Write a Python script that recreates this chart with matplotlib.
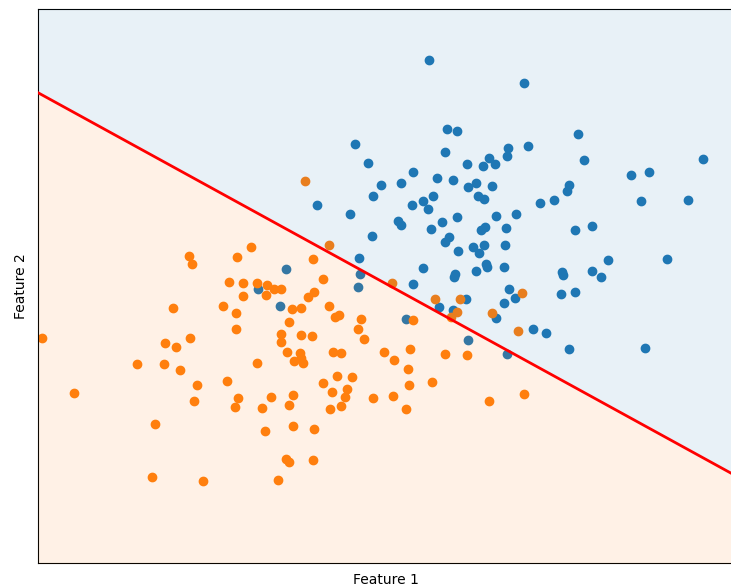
import numpy as np
import matplotlib
matplotlib.use("Agg")
import matplotlib.pyplot as plt

# Class 0 (blue) points
blue_x = [0.44, 1.39, 0.62, 0.72, 1.93, -0.30, 1.43, 1.23, 0.60, 1.22,
          1.04, 3.18, 1.99, -0.17, 0.82, 1.10, 0.98, 0.28, 2.64, 2.46,
          0.52, 0.68, 0.16, -0.04, 1.07, 0.83, 0.91, 1.84, 1.82, -0.12,
          0.48, 0.93, 0.99, 0.38, 1.69, 1.55, 2.56, 3.03, -0.68, 0.27,
          0.43, -0.35, 1.11, 1.31, 0.72, 0.13, 0.16, 0.57, 1.21, 1.90,
          2.07, 0.46, 0.96, 1.00, -0.13, 0.60, 0.64, 1.20, 0.99, 0.73,
          0.88, 0.94, -0.26, 2.23, 2.82, 1.19, 0.38, 0.70, 0.69, 0.91,
          1.01, 1.02, 1.77, 1.78, 2.07, 2.16, -0.25, -0.99, 0.28, -0.27,
          -1.27, 1.24, 1.30, 1.19, 1.76, 1.90, -1.05, 0.54, 0.68, 0.81,
          1.11, 0.21, 1.48, 1.61, 0.83, 1.84, 2.60, 1.22]
blue_y = [2.40, 2.17, 1.71, 1.69, 1.66, 1.56, 1.54, 1.52, 1.48, 1.44,
          1.42, 1.41, 1.40, 1.37, 1.36, 1.36, 1.34, 1.28, 1.28, 1.25,
          1.22, 1.20, 1.17, 1.15, 1.14, 1.13, 1.17, 1.15, 1.09, 1.04,
          1.04, 1.04, 1.01, 0.99, 1.00, 0.97, 0.99, 1.00, 0.95, 0.95,
          0.91, 0.86, 0.84, 0.86, 0.83, 0.79, 0.75, 0.78, 0.72, 0.70,
          0.74, 0.71, 0.70, 0.73, 0.64, 0.58, 0.63, 0.55, 0.55, 0.49,
          0.53, 0.47, 0.42, 0.40, 0.41, 0.33, 0.32, 0.26, 0.23, 0.29,
          0.36, 0.33, 0.28, 0.25, 0.29, 0.23, 0.26, 0.31, 0.16, 0.13,
          0.11, 0.11, 0.02, -0.03, 0.06, 0.08, -0.06, -0.07, -0.10, 0.01,
          -0.18, -0.19, -0.29, -0.33, -0.40, -0.49, -0.48, -0.54]

# Class 1 (orange) points
orange_x = [-0.80, -0.56, -1.34, -1.96, -1.93, -1.48, -0.72, -1.56, -1.42, -1.28,
            -1.18, -1.11, -1.04, -1.42, -1.19, -0.62, -0.71, -0.77, 0.07, -2.12,
            -1.62, -1.49, -0.93, -0.84, -0.56, -0.50, -0.46, -0.24, -0.96, -1.49,
            -1.04, -1.04, -0.84, -0.73, -0.27, -0.21, -3.43, -2.20, -2.09, -1.95,
            -0.98, -0.85, -0.84, -0.91, -0.82, -0.52, -0.44, -0.01, 0.09, -2.48,
            -2.21, -2.05, -1.28, -1.88, -1.58, -0.62, -0.48, -0.33, -0.53, -0.38,
            -0.40, -3.11, -1.91, -1.47, -1.50, -1.23, -1.14, -0.92, -0.96, -0.55,
            -0.44, -0.12, 0.08, 0.21, 0.24, 0.47, 0.23, 0.25, 0.60, 0.82,
            0.50, 0.75, 0.72, 0.66, 1.07, 1.37, 1.33, 0.28, 1.04, 1.39,
            -2.30, -1.20, -0.92, -0.71, -0.99, -0.96, -0.72, -2.33, -1.82, -1.07]
orange_y = [1.19, 0.55, 0.53, 0.44, 0.36, 0.43, 0.41, 0.18, 0.17, 0.17,
            0.15, 0.11, 0.11, 0.04, 0.05, 0.21, 0.08, 0.03, 0.17, -0.08,
            -0.06, -0.13, -0.09, -0.08, -0.06, -0.17, -0.15, -0.19, -0.22, -0.29,
            -0.34, -0.42, -0.35, -0.36, -0.29, -0.39, -0.38, -0.43, -0.47, -0.38,
            -0.52, -0.53, -0.58, -0.61, -0.63, -0.52, -0.53, -0.52, -0.60, -0.64,
            -0.64, -0.70, -0.63, -0.85, -0.81, -0.83, -0.76, -0.77, -0.92, -0.89,
            -0.97, -0.93, -1.01, -0.98, -1.07, -1.08, -0.97, -0.95, -1.05, -1.09,
            -1.06, -0.98, -0.96, -1.09, -0.85, -0.82, -0.69, -0.49, -0.54, -0.55,
            0.01, 0.01, -0.12, -0.17, -0.13, 0.07, -0.31, -0.20, -1.01, -0.94,
            -1.24, -1.31, -1.26, -1.29, -1.59, -1.62, -1.60, -1.77, -1.81, -1.80]

# Decision boundary: y = slope * x + intercept
slope = -0.549
intercept = 0.168
x_range = (-3.47, 3.49)
y_range = (-2.63, 2.91)

fig = plt.figure(figsize=(7.31, 5.86), dpi=100)
ax = fig.add_axes([38 / 731, 23 / 586, 696 / 731, 554 / 586])

ax.scatter(blue_x, blue_y, color='#1f77b4', zorder=2)
ax.scatter(orange_x, orange_y, color='#ff7f0e', zorder=2)

# shaded regions on top of the points
xs = np.linspace(x_range[0], x_range[1], 200)
line_y = slope * xs + intercept
ax.fill_between(xs, line_y, y_range[1], color='#1f77b4', alpha=0.1, lw=0, zorder=3)
ax.fill_between(xs, y_range[0], line_y, color='#ff7f0e', alpha=0.1, lw=0, zorder=3)
ax.plot(xs, line_y, color='red', linewidth=2, zorder=4)

ax.set_xlim(*x_range)
ax.set_ylim(*y_range)
ax.set_xticks([])
ax.set_yticks([])
ax.set_xlabel('Feature 1', labelpad=7)
ax.set_ylabel('Feature 2', labelpad=7)

plt.savefig("out.png", dpi=100)
